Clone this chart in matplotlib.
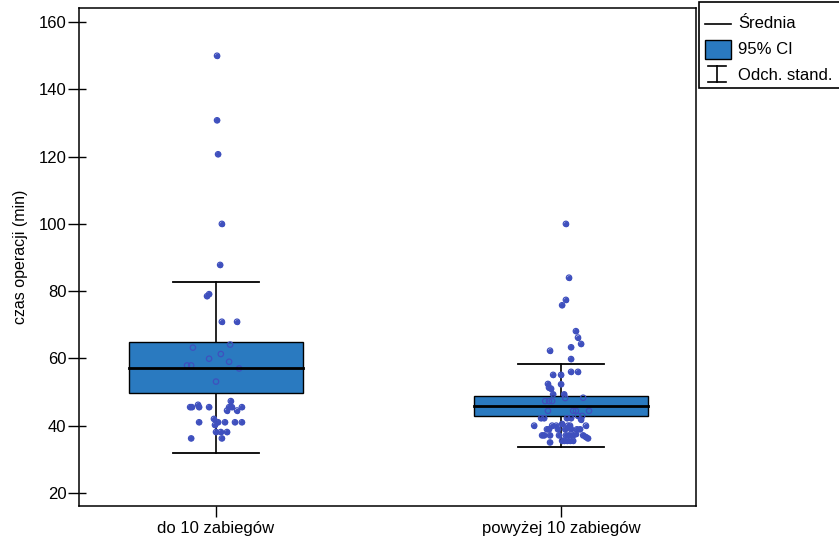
import numpy as np
import matplotlib
matplotlib.use("Agg")
import matplotlib.pyplot as plt
from matplotlib.patches import Rectangle

plt.rcParams['font.family'] = ['Liberation Sans', 'DejaVu Sans']

groups = ['do 10 zabiegów', 'powyżej 10 zabiegów']
means = [57.0, 45.7]
ci_low = [49.7, 42.9]
ci_high = [64.8, 48.8]
sd_low = [31.9, 33.7]
sd_high = [82.7, 58.3]

# raw points (value, horizontal jitter in category units)
pts1_y = [150.0, 130.8, 120.7, 100.0, 87.8, 78.5, 79.1, 70.9, 70.9,
          63.2, 64.1, 61.3, 59.9, 59.0, 57.9, 57.9, 57.0, 53.1,
          47.3, 45.5, 45.5, 46.2, 45.5, 45.5, 44.5, 45.5, 45.5, 44.5, 45.5,
          42.0, 40.2, 41.0, 41.0, 41.0, 41.0, 41.0, 38.1, 38.1, 38.1, 36.2, 36.2]
pts1_dx = [0.003, 0.003, 0.006, 0.017, 0.012, -0.026, -0.020, 0.017, 0.061,
           -0.067, 0.041, 0.014, -0.020, 0.038, -0.084, -0.072, 0.067, 0.0,
           0.043, -0.075, -0.070, -0.052, -0.049, -0.020, 0.032, 0.038, 0.046, 0.061, 0.075,
           -0.006, -0.003, -0.049, 0.006, 0.026, 0.055, 0.075, 0.0, 0.014, 0.032, -0.072, 0.017]

pts2_y = [100.0, 84.0, 77.4, 75.8, 68.1, 66.2, 64.3, 62.3, 63.3, 59.8,
          56.0, 56.0, 55.1, 55.1, 52.4, 51.3, 51.0, 52.3, 49.3, 49.3, 48.2,
          47.3, 47.3, 47.3, 48.3, 44.4, 44.4, 44.4, 44.4, 42.9, 42.9,
          42.2, 42.2, 42.2, 42.2, 41.8,
          40.0, 40.0, 40.0, 40.5, 40.0, 40.0, 40.0,
          38.9, 38.9, 38.9, 38.9, 38.9, 38.9, 38.9,
          37.1, 37.1, 37.1, 37.1, 37.1, 37.1, 37.1, 37.5, 37.1, 36.6, 36.2,
          35.0, 35.5, 35.5, 35.5, 35.5, 35.5]
pts2_dx = [0.014, 0.023, 0.014, 0.003, 0.043, 0.049, 0.058, -0.032, 0.029, 0.029,
           0.029, 0.049, -0.023, 0.0, -0.038, -0.035, -0.029, 0.0, -0.023, 0.009, 0.012,
           -0.046, -0.035, -0.026, 0.064, -0.038, 0.035, 0.043, 0.081, 0.049, 0.061,
           -0.058, -0.049, 0.029, 0.017, 0.058,
           -0.078, -0.026, -0.014, 0.003, 0.020, 0.026, 0.072,
           -0.041, -0.035, -0.009, 0.012, 0.029, 0.046, 0.055,
           -0.055, -0.049, -0.032, -0.006, 0.014, 0.023, 0.035, 0.043, 0.064, 0.072, 0.078,
           -0.032, 0.003, 0.009, 0.017, 0.026, 0.035]

box_col = '#2A7AC0'
pt_col = '#3F50BE'

fig = plt.figure(figsize=(8.39, 5.39), dpi=100)
ax = fig.add_axes([79/839, 1-506/539, 617/839, 498/539])

box_w = 0.505
cap_w = 0.25
for i in range(2):
    ax.plot([i, i], [sd_low[i], sd_high[i]], color='black', lw=1.2, zorder=1)
    ax.plot([i - cap_w/2, i + cap_w/2], [sd_low[i]]*2, color='black', lw=1.3, zorder=1)
    ax.plot([i - cap_w/2, i + cap_w/2], [sd_high[i]]*2, color='black', lw=1.3, zorder=1)
    ax.add_patch(Rectangle((i - box_w/2, ci_low[i]), box_w, ci_high[i]-ci_low[i],
                           facecolor=box_col, edgecolor='black', lw=1.0, zorder=2))
    ax.plot([i - box_w/2, i + box_w/2], [means[i]]*2, color='black', lw=2.0, zorder=4)

for i, (ys, dx) in enumerate([(pts1_y, pts1_dx), (pts2_y, pts2_dx)]):
    xs = i + np.array(dx)
    ax.scatter(xs, ys, s=15, color=pt_col, linewidths=0, zorder=1.5)
    ax.scatter(xs, ys, s=15, facecolors='none', edgecolors=pt_col, linewidths=0.9, zorder=3)

ax.set_xlim(-0.397, 1.391)
ax.set_ylim(16.1, 164.2)
ax.set_xticks([0, 1])
ax.set_xticklabels(groups)
ax.set_yticks(range(20, 161, 20))
# y ticks cross the axis line: long outside, short inside
ax.set_yticks(range(20, 161, 20), minor=True)
ax.yaxis.remove_overlapping_locs = False
ax.tick_params(axis='y', which='major', direction='out', length=8, width=1, pad=1)
ax.tick_params(axis='y', which='minor', direction='in', length=5, width=1)
ax.tick_params(axis='x', direction='out', length=8, width=1, pad=3)
ax.tick_params(labelsize=12, colors='black')
for s in ax.spines.values():
    s.set_linewidth(1.1)
ax.set_ylabel('czas operacji (min)', fontsize=11.5, labelpad=8)

# legend box outside the plot, top right
lg = fig.add_axes([699/839, 1-88/539, 140/839, 86/539])
lg.set_xlim(0, 140)
lg.set_ylim(86, 0)
lg.set_axis_off()
lg.add_patch(Rectangle((0, 0), 150, 86, facecolor='white', edgecolor='black', lw=1.2, clip_on=False))
lg.plot([6, 32], [22, 22], color='black', lw=1.2)
lg.text(39, 22, 'Średnia', va='center', ha='left', fontsize=12)
lg.add_patch(Rectangle((6, 38), 26, 19, facecolor=box_col, edgecolor='black', lw=1.0))
lg.text(39, 48, '95% CI', va='center', ha='left', fontsize=12)
lg.plot([18, 18], [64, 80], color='black', lw=1.2)
lg.plot([9, 27], [64, 64], color='black', lw=1.2)
lg.plot([9, 27], [80, 80], color='black', lw=1.2)
lg.text(39, 73, 'Odch. stand.', va='center', ha='left', fontsize=12)

fig.savefig('out.png', dpi=100)
